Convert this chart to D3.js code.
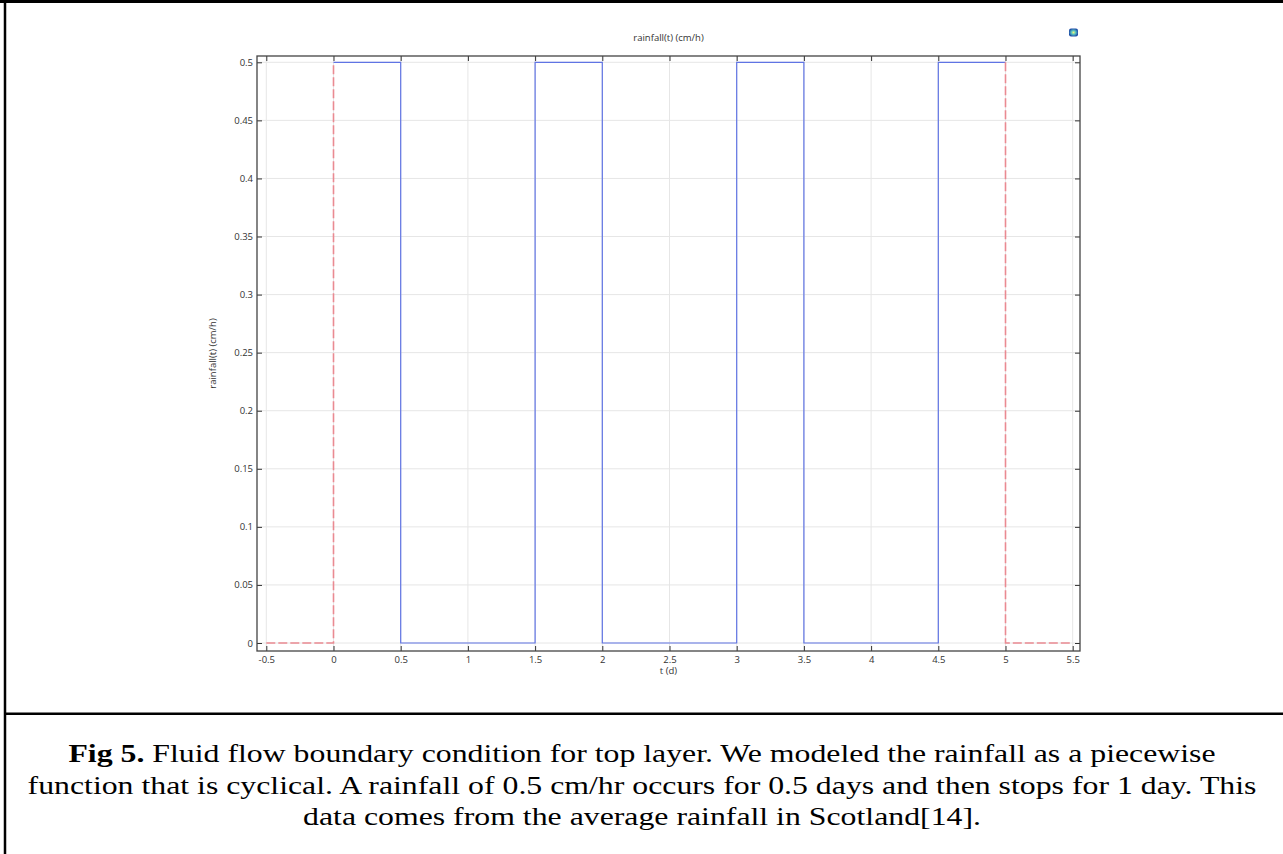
<!DOCTYPE html>
<html>
<head>
<meta charset="utf-8">
<script src="https://cdn.jsdelivr.net/npm/d3@7"></script>
<style>
  html, body { margin: 0; padding: 0; background: #fff; }
  svg { display: block; }
</style>
</head>
<body>
<svg id="chart" width="1283" height="854"></svg>
<script>
// ---- data ----
const chartTitle = "rainfall(t) (cm/h)";
const xLabel = "t (d)";
const yLabel = "rainfall(t) (cm/h)";
// main (defined) piecewise rainfall, blue solid
const tMain = [0, 0.5, 0.5, 1.5, 1.5, 2, 2, 3, 3, 3.5, 3.5, 4.5, 4.5, 5];
const rainMain = [0.5, 0.5, 0, 0, 0.5, 0.5, 0, 0, 0.5, 0.5, 0, 0, 0.5, 0.5];
// extrapolation outside the defined interval, red dashed
const tExtLeft = [-0.5, 0, 0];
const rainExtLeft = [0, 0, 0.5];
const tExtRight = [5, 5, 5.5];
const rainExtRight = [0.5, 0, 0];
const xTicks = [-0.5, 0, 0.5, 1, 1.5, 2, 2.5, 3, 3.5, 4, 4.5, 5, 5.5];
const xTickLabels = ["-0.5", "0", "0.5", "1", "1.5", "2", "2.5", "3", "3.5", "4", "4.5", "5", "5.5"];
const yTicks = [0, 0.05, 0.1, 0.15, 0.2, 0.25, 0.3, 0.35, 0.4, 0.45, 0.5];
const yTickLabels = ["0", "0.05", "0.1", "0.15", "0.2", "0.25", "0.3", "0.35", "0.4", "0.45", "0.5"];
const captionBold = "Fig 5.";
const captionLines = [
  " Fluid flow boundary condition for top layer. We modeled the rainfall as a piecewise",
  "function that is cyclical. A rainfall of 0.5 cm/hr occurs for 0.5 days and then stops for 1 day. This",
  "data comes from the average rainfall in Scotland[14]."
];

// ---- layout ----
const svg = d3.select("#chart");
const frame = { left: 257, right: 1080, top: 56, bottom: 651 };
const tickFont = "'Open Sans', 'DejaVu Sans', sans-serif";
const tickSize = "9.5px";

const x = d3.scaleLinear()
  .domain([-0.5, 5.5])
  .range([266.3 - frame.left, 1072.7 - frame.left]);
const y = d3.scaleLinear()
  .domain([0, 0.5])
  .range([643 - frame.top, 62.3 - frame.top]);

const W = frame.right - frame.left, H = frame.bottom - frame.top;
const g = svg.append("g").attr("transform", `translate(${frame.left},${frame.top})`);

// grid
g.append("g").selectAll("line").data(xTicks).join("line")
  .attr("x1", d => x(d)).attr("x2", d => x(d))
  .attr("y1", 0).attr("y2", H)
  .attr("stroke", "#e6e6e6").attr("stroke-width", 1);
g.append("g").selectAll("line").data(yTicks).join("line")
  .attr("x1", 0).attr("x2", W)
  .attr("y1", d => y(d)).attr("y2", d => y(d))
  .attr("stroke", "#e6e6e6").attr("stroke-width", 1);

// lines
const line = d3.line().x(d => x(d[0])).y(d => y(d[1]));
g.append("path")
  .datum(d3.zip(tMain, rainMain))
  .attr("d", line).attr("fill", "none")
  .attr("stroke", "#6074e4").attr("stroke-width", 1.2);
[[tExtLeft, rainExtLeft], [tExtRight, rainExtRight]].forEach(([t, v]) => {
  g.append("path")
    .datum(d3.zip(t, v))
    .attr("d", line).attr("fill", "none")
    .attr("stroke", "#ea8a92").attr("stroke-width", 1.6)
    .attr("stroke-dasharray", "9,3");
});

// axes (ticks inward, mirrored)
function styleAxis(sel) {
  sel.select(".domain").remove();
  sel.selectAll(".tick line").attr("stroke", "#333");
  sel.selectAll(".tick text").attr("fill", "#333")
    .style("font-family", tickFont).style("font-size", tickSize);
}
g.append("g").attr("transform", `translate(0,${H})`)
  .call(d3.axisBottom(x).tickValues(xTicks).tickFormat((d, i) => xTickLabels[i]).tickSize(-5).tickPadding(5.5))
  .call(styleAxis);
g.append("g")
  .call(d3.axisTop(x).tickValues(xTicks).tickFormat("").tickSize(-5))
  .call(styleAxis);
g.append("g")
  .call(d3.axisLeft(y).tickValues(yTicks).tickFormat((d, i) => yTickLabels[i]).tickSize(-5).tickPadding(4))
  .call(styleAxis);
g.append("g").attr("transform", `translate(${W},0)`)
  .call(d3.axisRight(y).tickValues(yTicks).tickFormat("").tickSize(-5))
  .call(styleAxis);

// frame
g.append("rect").attr("x", 0).attr("y", 0).attr("width", W).attr("height", H)
  .attr("fill", "none").attr("stroke", "#444").attr("stroke-width", 1.3);

// titles
svg.append("text").attr("x", frame.left + W / 2).attr("y", 41)
  .attr("text-anchor", "middle").attr("fill", "#333")
  .style("font-family", tickFont).style("font-size", tickSize).text(chartTitle);
svg.append("text").attr("x", frame.left + W / 2).attr("y", 674)
  .attr("text-anchor", "middle").attr("fill", "#333")
  .style("font-family", tickFont).style("font-size", tickSize).text(xLabel);
svg.append("text")
  .attr("transform", `translate(216,${frame.top + H / 2}) rotate(-90)`)
  .attr("text-anchor", "middle").attr("fill", "#333")
  .style("font-family", tickFont).style("font-size", tickSize).text(yLabel);

// small toolbar icon
const defs = svg.append("defs");
const grad = defs.append("radialGradient").attr("id", "ico");
grad.append("stop").attr("offset", "0%").attr("stop-color", "#f2f27a");
grad.append("stop").attr("offset", "45%").attr("stop-color", "#5cc7c0");
grad.append("stop").attr("offset", "100%").attr("stop-color", "#1f4fa8");
svg.append("rect").attr("x", 1069).attr("y", 28.5).attr("width", 9).attr("height", 8)
  .attr("rx", 2).attr("fill", "url(#ico)");

// outer borders
svg.append("line").attr("x1", 0).attr("x2", 1283).attr("y1", 1.5).attr("y2", 1.5)
  .attr("stroke", "#000").attr("stroke-width", 3);
svg.append("line").attr("x1", 5).attr("x2", 5).attr("y1", 0).attr("y2", 854)
  .attr("stroke", "#000").attr("stroke-width", 2.5);
svg.append("line").attr("x1", 4).attr("x2", 1283).attr("y1", 713.7).attr("y2", 713.7)
  .attr("stroke", "#000").attr("stroke-width", 2.6);

// caption (source picture is horizontally stretched: scale text in x)
const capFont = "'Liberation Serif', 'Times New Roman', serif";
const capPx = 25.5;
const capStretch = 31.8 / capPx;
const cx = 642;
const capY = [762, 794, 825];
const capG = svg.append("g").attr("transform", `translate(${cx},0) scale(${capStretch},1)`);
const cap1 = capG.append("text").attr("x", 0).attr("y", capY[0]).attr("text-anchor", "middle")
  .style("font-family", capFont).style("font-size", capPx + "px").attr("fill", "#000");
cap1.append("tspan").style("font-weight", "bold").text(captionBold);
cap1.append("tspan").text(captionLines[0]);
captionLines.slice(1).forEach((t, i) => {
  capG.append("text").attr("x", 0).attr("y", capY[i + 1]).attr("text-anchor", "middle")
    .style("font-family", capFont).style("font-size", capPx + "px").attr("fill", "#000").text(t);
});
</script>
</body>
</html>
